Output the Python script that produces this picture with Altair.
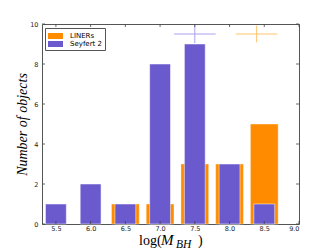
import altair as alt
import pandas as pd

# ---- data ----
bins = [5.5, 6.0, 6.5, 7.0, 7.5, 8.0, 8.5]
seyfert_counts = [1, 2, 1, 8, 9, 3, 1]
liner_counts = [0, 0, 1, 1, 3, 3, 5]
series_names = ["LINERs", "Seyfert 2"]
series_colors = ["#FF8C00", "#6A5ACD"]

cross_series = ["Seyfert 2", "LINERs"]
cross_x = [7.5, 8.39]
cross_y = [9.5, 9.5]
cross_xerr = [0.3, 0.3]
cross_yerr = [0.45, 0.42]
cross_colors = ["#aba2ea", "#ffc46e"]

x_ticks = [5.5, 6.0, 6.5, 7.0, 7.5, 8.0, 8.5, 9.0]
y_ticks = [0, 2, 4, 6, 8, 10]
x_domain = [5.3, 9.0]
y_domain = [0, 10]

y_title = "Number of objects"
x_title_parts = ["log(", "M", "BH", ")"]

W, H = 257, 200

liner_df = pd.DataFrame({"bin": bins, "count": liner_counts, "type": series_names[0]})
liner_df = liner_df[liner_df["count"] > 0]
sey_df = pd.DataFrame({"bin": bins, "count": seyfert_counts, "type": series_names[1]})
sey_df = sey_df[sey_df["count"] > 0]
cross_df = pd.DataFrame({"series": cross_series, "x": cross_x, "y": cross_y,
                         "xerr": cross_xerr, "yerr": cross_yerr})

xs = alt.Scale(domain=x_domain, nice=False, zero=False)
ys = alt.Scale(domain=y_domain, nice=False, zero=False)
cs = alt.Scale(domain=series_names, range=series_colors)

legend = alt.Legend(
    orient="none", legendX=3, legendY=4, title=None,
    symbolType="M-1,-0.6H2V0.6H-1Z", symbolSize=100, symbolStrokeWidth=0,
    symbolOpacity=1, labelFont="DejaVu Sans", labelFontSize=7, labelColor="#000",
    labelOffset=12, padding=3, strokeColor="#555", fillColor="white",
    rowPadding=0, cornerRadius=0,
)

x_axis = alt.Axis(values=x_ticks, format=".1f", title=None, ticks=False, tickSize=0,
                  domain=False, grid=False, labelFont="DejaVu Sans", labelFontSize=6.5,
                  labelColor="#222", labelPadding=1, labelOverlap=False)
y_axis = alt.Axis(values=y_ticks, format="d", title=y_title, ticks=False, tickSize=0,
                  domain=False, grid=False, labelFont="DejaVu Sans", labelFontSize=6.5,
                  labelColor="#222", labelPadding=4, labelOverlap=False,
                  titleFont="Liberation Serif", titleFontStyle="italic",
                  titleFontWeight="normal", titleFontSize=14, titleColor="#000",
                  titleX=-20, titleY=H / 2, titleAngle=-90, titleAlign="center",
                  titleBaseline="middle")

liner_bars = alt.Chart(liner_df).transform_calculate(
    lo="datum.bin - 0.2", hi="datum.bin + 0.2"
).mark_rect(stroke="white", strokeOpacity=0.4, strokeWidth=1).encode(
    x=alt.X("lo:Q", scale=xs, axis=x_axis),
    x2="hi:Q",
    y=alt.Y("count:Q", scale=ys, axis=y_axis),
    y2=alt.datum(0),
    color=alt.Color("type:N", scale=cs, legend=legend),
)

sey_bars = alt.Chart(sey_df).transform_calculate(
    lo="datum.bin - 0.15", hi="datum.bin + 0.15"
).mark_rect(stroke="white", strokeOpacity=0.5, strokeWidth=1).encode(
    x=alt.X("lo:Q", scale=xs, axis=x_axis),
    x2="hi:Q",
    y=alt.Y("count:Q", scale=ys, axis=y_axis),
    y2=alt.datum(0),
    color=alt.Color("type:N", scale=cs, legend=legend),
)

cs2 = alt.Scale(domain=cross_series, range=cross_colors)
cross_base = alt.Chart(cross_df).transform_calculate(
    x_lo="datum.x - datum.xerr", x_hi="datum.x + datum.xerr",
    y_lo="datum.y - datum.yerr", y_hi="datum.y + datum.yerr",
)
cross_h = cross_base.mark_rule(strokeWidth=1).encode(
    x=alt.X("x_lo:Q", scale=xs, axis=x_axis), x2="x_hi:Q",
    y=alt.Y("y:Q", scale=ys, axis=y_axis),
    stroke=alt.Stroke("series:N", scale=cs2, legend=None),
)
cross_v = cross_base.mark_rule(strokeWidth=1).encode(
    x=alt.X("x:Q", scale=xs, axis=x_axis),
    y=alt.Y("y_lo:Q", scale=ys, axis=y_axis), y2="y_hi:Q",
    stroke=alt.Stroke("series:N", scale=cs2, legend=None),
)

tick_color = "#444"
xt = pd.DataFrame({"v": x_ticks})
yt = pd.DataFrame({"v": y_ticks})
ticks_bottom = alt.Chart(xt).mark_rule(color=tick_color, strokeWidth=0.8).encode(
    x=alt.X("v:Q", scale=xs, axis=x_axis), y=alt.value(H), y2=alt.value(H - 3))
ticks_top = alt.Chart(xt).mark_rule(color=tick_color, strokeWidth=0.8).encode(
    x=alt.X("v:Q", scale=xs, axis=x_axis), y=alt.value(0), y2=alt.value(3))
ticks_left = alt.Chart(yt).mark_rule(color=tick_color, strokeWidth=0.8).encode(
    y=alt.Y("v:Q", scale=ys, axis=y_axis), x=alt.value(0), x2=alt.value(3))
ticks_right = alt.Chart(yt).mark_rule(color=tick_color, strokeWidth=0.8).encode(
    y=alt.Y("v:Q", scale=ys, axis=y_axis), x=alt.value(W), x2=alt.value(W - 3))

def title_part(text, x, y, size, style):
    return alt.Chart(alt.Data(values=[{"t": text}])).mark_text(
        font="Liberation Serif", fontSize=size, fontStyle=style, color="#000",
        align="left", baseline="alphabetic",
    ).encode(text="t:N", x=alt.value(x), y=alt.value(y))

xt1 = title_part(x_title_parts[0], 97, 221, 14, "normal")
xt2 = title_part(x_title_parts[1], 119, 221, 15, "italic")
xt3 = title_part(x_title_parts[2], 134, 224, 11.5, "italic")
xt4 = title_part(x_title_parts[3], 156, 221, 14, "normal")

chart = alt.layer(
    liner_bars, sey_bars, cross_h, cross_v,
    ticks_bottom, ticks_top, ticks_left, ticks_right,
    xt1, xt2, xt3, xt4,
).resolve_scale(stroke="independent").properties(
    width=W, height=H,
    autosize=alt.AutoSizeParams(type="none"),
    padding={"left": 34, "top": 16, "right": 17, "bottom": 25},
    background="white",
).configure_view(stroke="#555", strokeWidth=1
).configure_axis(labelOverlap=False)

chart.save("out.html", embed_options={"renderer": "svg", "actions": False})
